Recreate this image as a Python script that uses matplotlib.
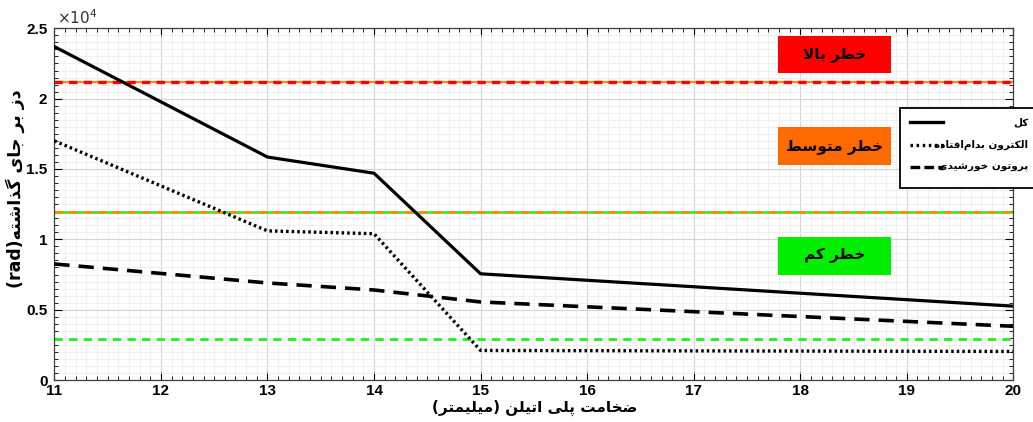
import matplotlib
matplotlib.use("Agg")
import matplotlib.pyplot as plt
from matplotlib.patches import Rectangle
from matplotlib.lines import Line2D
from matplotlib.ticker import MultipleLocator, FuncFormatter

# data
thickness = [11, 13, 14, 15, 20]
dose_total = [23700, 15850, 14700, 7550, 5250]
dose_electron = [17000, 10600, 10400, 2100, 2030]
dose_proton = [8250, 6900, 6400, 5550, 3820]

level_high = 21200
level_mid = 11950
level_low = 2900

legend_labels = ["کل", "الکترون بدام\u200cافتاده", "پروتون خورشیدی"]
risk_labels = ["خطر بالا", "خطر متوسط", "خطر کم"]
risk_colors = ["#ff0000", "#ff6a00", "#00ee00"]
risk_boxes = [(17.79, 21800), (17.79, 15300), (17.79, 7500)]  # lower-left corners
xlabel_fa = "ضخامت پلی اتیلن (میلیمتر)"
ylabel_fa = "دز بر جای گذاشته"

# --- tiny Arabic/Persian shaper (matplotlib has no shaping) ---
FORMS = {
    'ا': ('\uFE8D', '\uFE8E', None, None),
    'ب': ('\uFE8F', '\uFE90', '\uFE91', '\uFE92'),
    'پ': ('\uFB56', '\uFB57', '\uFB58', '\uFB59'),
    'ت': ('\uFE95', '\uFE96', '\uFE97', '\uFE98'),
    'ج': ('\uFE9D', '\uFE9E', '\uFE9F', '\uFEA0'),
    'خ': ('\uFEA5', '\uFEA6', '\uFEA7', '\uFEA8'),
    'د': ('\uFEA9', '\uFEAA', None, None),
    'ذ': ('\uFEAB', '\uFEAC', None, None),
    'ر': ('\uFEAD', '\uFEAE', None, None),
    'ز': ('\uFEAF', '\uFEB0', None, None),
    'س': ('\uFEB1', '\uFEB2', '\uFEB3', '\uFEB4'),
    'ش': ('\uFEB5', '\uFEB6', '\uFEB7', '\uFEB8'),
    'ض': ('\uFEBD', '\uFEBE', '\uFEBF', '\uFEC0'),
    'ط': ('\uFEC1', '\uFEC2', '\uFEC3', '\uFEC4'),
    'ف': ('\uFED1', '\uFED2', '\uFED3', '\uFED4'),
    'ک': ('\uFB8E', '\uFB8F', '\uFB90', '\uFB91'),
    'گ': ('\uFB92', '\uFB93', '\uFB94', '\uFB95'),
    'ل': ('\uFEDD', '\uFEDE', '\uFEDF', '\uFEE0'),
    'م': ('\uFEE1', '\uFEE2', '\uFEE3', '\uFEE4'),
    'ن': ('\uFEE5', '\uFEE6', '\uFEE7', '\uFEE8'),
    'ه': ('\uFEE9', '\uFEEA', '\uFEEB', '\uFEEC'),
    'و': ('\uFEED', '\uFEEE', None, None),
    'ی': ('\uFBFC', '\uFBFD', '\uFBFE', '\uFBFF'),
}


def fa(s):
    out = []
    i = 0
    n = len(s)
    while i < n:
        c = s[i]
        if c == '\u200c':
            i += 1
            continue
        if c not in FORMS:
            out.append(c)
            i += 1
            continue
        prev = s[i - 1] if i > 0 else None
        nxt = s[i + 1] if i + 1 < n else None
        jp = prev in FORMS and FORMS[prev][2] is not None
        if c == 'ل' and nxt == 'ا':
            out.append('\uFEFC' if jp else '\uFEFB')
            i += 2
            continue
        jn = FORMS[c][2] is not None and nxt in FORMS
        iso, fin, ini, med = FORMS[c]
        if jp and jn:
            out.append(med)
        elif jp:
            out.append(fin)
        elif jn:
            out.append(ini)
        else:
            out.append(iso)
        i += 1
    vis = ''.join(reversed(out))
    return vis.translate(str.maketrans('()', ')('))


plt.rcParams['font.family'] = ['Liberation Sans', 'DejaVu Sans']
plt.rcParams['lines.scale_dashes'] = False

fig = plt.figure(figsize=(10.33, 4.22), dpi=100)
ax = fig.add_axes([0.0526, 0.0995, 0.9284, 0.8334])

# risk threshold lines
ax.axhline(level_high, color='#ff8c00', lw=1.6, zorder=2)
ax.axhline(level_high, color='#ff0000', lw=2.4, dashes=(6, 4.5), zorder=2)
ax.axhline(level_mid, color='#22ee22', lw=1.8, zorder=2)
ax.axhline(level_mid, color='#ff8c00', lw=2.0, dashes=(6, 4.5), zorder=2)
ax.axhline(level_low, color='#22ee22', lw=2.0, dashes=(6, 4.5), zorder=2)

# dose curves
ax.plot(thickness, dose_total, color='black', lw=2.3, zorder=3)
ax.plot(thickness, dose_electron, color='black', lw=2.4, dashes=(1.8, 2.2), zorder=3)
ax.plot(thickness, dose_proton, color='black', lw=2.6, dashes=(11, 6.5), zorder=3)

# risk boxes
for lab, col, (bx, by) in zip(risk_labels, risk_colors, risk_boxes):
    ax.add_patch(Rectangle((bx, by), 1.06, 2650, facecolor=col, edgecolor='none', zorder=4))
    ax.text(bx + 0.53, by + 1325, fa(lab), ha='center', va='center', fontsize=11,
            fontweight='bold', family='DejaVu Sans', zorder=5)

ax.set_xlim(11, 20)
ax.set_ylim(0, 25000)
ax.set_xticks(range(11, 21))
ax.xaxis.set_minor_locator(MultipleLocator(0.1))
ax.yaxis.set_major_locator(MultipleLocator(5000))
ax.yaxis.set_minor_locator(MultipleLocator(500))
ax.yaxis.set_major_formatter(FuncFormatter(lambda v, p: f"{v / 1e4:g}"))
ax.tick_params(which='both', direction='in', top=True, right=True, labelsize=11)
ax.tick_params(which='major', length=6, width=0.8)
ax.tick_params(which='minor', length=3, width=0.6)
ax.tick_params(axis='x', pad=3)
ax.tick_params(axis='y', pad=5)
for lbl in ax.get_xticklabels() + ax.get_yticklabels():
    lbl.set_fontweight('bold')
ax.grid(which='major', color='#d4d4d4', lw=0.8)
ax.grid(which='minor', color='#ececec', lw=0.6)
ax.set_axisbelow(True)
for sp in ax.spines.values():
    sp.set_color('#404040')
    sp.set_linewidth(0.9)

ax.text(0.003, 1.005, r'$\times10^{4}$', transform=ax.transAxes, fontsize=11,
        color='#333333', ha='left', va='bottom')

ax.set_xlabel(fa(xlabel_fa), fontsize=11, fontweight='bold', family='DejaVu Sans')
ax.xaxis.set_label_coords(0.501, -0.056)
ax.set_ylabel('(rad)' + fa(ylabel_fa), fontsize=12.5, fontweight='bold',
              family='DejaVu Sans')
ax.yaxis.set_label_coords(-0.031, 0.545)

# legend drawn by hand: handles left, right-aligned Persian labels
fig.add_artist(Rectangle((900 / 1033, 1 - 188 / 422), 150 / 1033, 80 / 422,
                         transform=fig.transFigure, facecolor='white',
                         edgecolor='black', lw=1.3, zorder=10))
styles = [dict(), dict(dashes=(1.8, 2.6)), dict(dashes=(7, 3))]
for k, (lab, st) in enumerate(zip(legend_labels, styles)):
    yy = 1 - (122 + 22.5 * k) / 422
    fig.add_artist(Line2D([910 / 1033, 943 / 1033], [yy, yy], transform=fig.transFigure,
                          color='black', lw=2.4, zorder=11, **st))
    fig.text(1028 / 1033, yy, fa(lab), ha='right', va='center', fontsize=7.5,
             fontweight='bold', family='DejaVu Sans', zorder=11)

fig.savefig('out.png', dpi=100)
